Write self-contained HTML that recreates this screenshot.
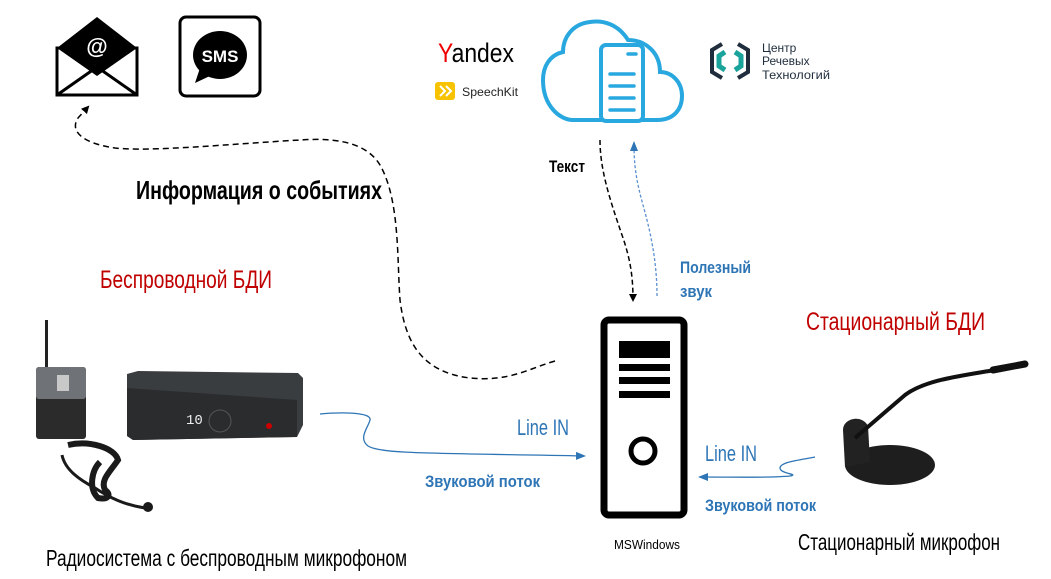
<!DOCTYPE html>
<html><head><meta charset="utf-8"><style>
html,body{margin:0;padding:0;background:#fff;}
svg{display:block;}
text{font-family:"Liberation Sans Narrow","Liberation Sans",sans-serif;}
</style></head><body>
<svg width="1051" height="579" viewBox="0 0 1051 579" xmlns="http://www.w3.org/2000/svg">
<defs>
<marker id="ab" markerWidth="8" markerHeight="8" refX="6" refY="4" orient="auto" markerUnits="userSpaceOnUse"><path d="M0,0 L8,4 L0,8 Z" fill="#000"/></marker>
<marker id="abl" markerWidth="10" markerHeight="8" refX="8" refY="4" orient="auto" markerUnits="userSpaceOnUse"><path d="M0,0 L10,4 L0,8 Z" fill="#2e75b6"/></marker>
</defs>
<g>
<rect x="57" y="48" width="80" height="47" fill="#fff" stroke="#000" stroke-width="3"/>
<path d="M57,48 L97,17 L137,48 L97,76 Z" fill="#000"/>
<path d="M57,95 L97,67 L137,95" fill="none" stroke="#000" stroke-width="3"/>
<text x="97" y="54" font-size="22" font-weight="bold" fill="#fff" text-anchor="middle" style="font-family:'Liberation Sans',sans-serif">@</text>
</g>
<rect x="180" y="17" width="80" height="79" rx="6" fill="#fff" stroke="#000" stroke-width="3"/>
<ellipse cx="220" cy="55" rx="27" ry="24" fill="#000"/>
<path d="M200,68 L195,83 L212,75 Z" fill="#000"/>
<text x="220" y="62" font-size="17" font-weight="bold" fill="#fff" text-anchor="middle" style="font-family:'Liberation Sans',sans-serif">SMS</text>
<text x="438" y="62" font-size="27" fill="#000" textLength="76" lengthAdjust="spacingAndGlyphs" style="font-family:'Liberation Sans',sans-serif"><tspan fill="#e00">Y</tspan>andex</text>
<rect x="435" y="82" width="20" height="18" rx="3" fill="#f7c300"/>
<path d="M440,86 L445,91 L440,96 M446,86 L451,91 L446,96" stroke="#fff" stroke-width="2" fill="none"/>
<text x="462" y="96" font-size="12" fill="#222" textLength="56" lengthAdjust="spacingAndGlyphs" style="font-family:'Liberation Sans',sans-serif">SpeechKit</text>
<path d="M573,120 L657,120 C675,120 682,108 682,96 C682,82 672,72 660,72 C660,52 645,40 628,40 C618,24 603,20 590,22 C572,24 563,38 563,52 C550,55 543,66 543,80 C543,106 560,120 573,120" fill="none" stroke="#29a8e0" stroke-width="4"/>
<rect x="601" y="45" width="42" height="76" rx="5" fill="#fff" stroke="#29a8e0" stroke-width="4"/>
<path d="M628,54 L636,54 M610,74 L634,74 M610,86 L634,86 M610,98 L634,98 M610,110 L634,110" stroke="#29a8e0" stroke-width="3.5" stroke-linecap="round"/>
<path d="M722,44 L712,50 L712,72 L722,78" fill="none" stroke="#1f2d3d" stroke-width="4"/>
<path d="M738,44 L748,50 L748,72 L738,78" fill="none" stroke="#1f2d3d" stroke-width="4"/>
<path d="M725,52 L719,56 L719,66 L725,70" fill="none" stroke="#1aa39b" stroke-width="5"/>
<path d="M735,52 L741,56 L741,66 L735,70" fill="none" stroke="#1aa39b" stroke-width="5"/>
<text x="762" y="52" font-size="12" fill="#1f2d3d" style="font-family:'Liberation Sans',sans-serif">Центр</text>
<text x="762" y="65" font-size="12" fill="#1f2d3d" style="font-family:'Liberation Sans',sans-serif">Речевых</text>
<text x="762" y="79" font-size="12" fill="#1f2d3d" textLength="68" lengthAdjust="spacingAndGlyphs" style="font-family:'Liberation Sans',sans-serif">Технологий</text>
<path d="M555,361 C530,368 510,382 470,378 C420,372 405,340 400,300 C397,260 400,200 380,165 C365,140 330,138 300,140 C230,144 150,152 115,148 C80,143 70,130 78,118 L88,107" fill="none" stroke="#000" stroke-width="1.5" stroke-dasharray="6,4" marker-end="url(#ab)"/>
<text x="136" y="199" font-size="26" font-weight="bold" fill="#000" textLength="246" lengthAdjust="spacingAndGlyphs">Информация о событиях</text>
<path d="M600,140 C600,170 610,200 622,235 C630,258 633,275 633,300" fill="none" stroke="#000" stroke-width="1.5" stroke-dasharray="5,3" marker-end="url(#ab)"/>
<text x="549" y="172" font-size="17" font-weight="bold" fill="#000" textLength="36" lengthAdjust="spacingAndGlyphs">Текст</text>
<path d="M657,296 C657,260 650,230 643,205 C636,180 634,165 634,143" fill="none" stroke="#5b8fd0" stroke-width="1.3" stroke-dasharray="3,2" marker-end="url(#abl)"/>
<text x="680" y="273" font-size="17" font-weight="bold" fill="#2e75b6" textLength="71" lengthAdjust="spacingAndGlyphs">Полезный</text>
<text x="680" y="297" font-size="17" font-weight="bold" fill="#2e75b6" textLength="32" lengthAdjust="spacingAndGlyphs">звук</text>
<rect x="604" y="320" width="80" height="195" rx="5" fill="#fff" stroke="#000" stroke-width="7"/>
<rect x="619" y="341" width="51" height="17" fill="#000"/>
<rect x="619" y="364" width="51" height="7" fill="#000"/>
<rect x="619" y="377" width="51" height="7" fill="#000"/>
<rect x="619" y="391" width="51" height="7" fill="#000"/>
<circle cx="643" cy="451" r="12" fill="none" stroke="#000" stroke-width="5"/>
<text x="614" y="549" font-size="13" fill="#000" textLength="66" lengthAdjust="spacingAndGlyphs">MSWindows</text>
<path d="M320,414 C340,412 372,412 370,420 C368,428 358,438 368,446 C380,454 430,453 584,456" fill="none" stroke="#2e75b6" stroke-width="1.3" marker-end="url(#abl)"/>
<text x="517" y="435" font-size="22" fill="#2e75b6" textLength="52" lengthAdjust="spacingAndGlyphs">Line IN</text>
<text x="425" y="487" font-size="17" font-weight="bold" fill="#2e75b6" textLength="115" lengthAdjust="spacingAndGlyphs">Звуковой поток</text>
<path d="M815,457 C800,460 780,462 780,468 C780,474 800,474 790,476 C770,478 740,477 700,477" fill="none" stroke="#2e75b6" stroke-width="1.3" marker-end="url(#abl)"/>
<text x="705" y="461" font-size="22" fill="#2e75b6" textLength="52" lengthAdjust="spacingAndGlyphs">Line IN</text>
<text x="705" y="511" font-size="17" font-weight="bold" fill="#2e75b6" textLength="111" lengthAdjust="spacingAndGlyphs">Звуковой поток</text>
<text x="100" y="288" font-size="25" fill="#c00000" textLength="172" lengthAdjust="spacingAndGlyphs">Беспроводной БДИ</text>
<text x="806" y="330" font-size="25" fill="#c00000" textLength="179" lengthAdjust="spacingAndGlyphs">Стационарный БДИ</text>
<g>
<rect x="45" y="320" width="3" height="48" fill="#222"/>
<rect x="36" y="367" width="50" height="72" rx="3" fill="#2b2b2b"/>
<rect x="36" y="367" width="50" height="32" rx="3" fill="#6f7378"/>
<rect x="57" y="375" width="12" height="16" fill="#c8c8c8"/>
<path d="M127,374 L138,371 L298,373 L303,378 L303,425 L297,437 L133,440 L127,436 Z" fill="#3a3d40"/>
<path d="M127,388 L297,400 L297,437 L133,440 L127,436 Z" fill="#2a2c2e"/>
<text x="186" y="424" font-size="14" fill="#eee" style="font-family:'Liberation Mono',monospace">10</text>
<circle cx="220" cy="421" r="11" fill="none" stroke="#555"/>
<circle cx="269" cy="426" r="3" fill="#c00"/>
<path d="M68,445 C90,440 115,448 118,460 C110,472 100,480 105,490 C112,495 108,500 98,498 C88,488 92,470 100,462" fill="none" stroke="#1a1a1a" stroke-width="6"/>
<path d="M62,455 C65,470 80,480 95,488 C110,498 125,505 145,508" fill="none" stroke="#1a1a1a" stroke-width="3"/>
<circle cx="148" cy="507" r="5" fill="#1a1a1a"/>
</g>
<text x="46" y="566" font-size="23" fill="#000" textLength="361" lengthAdjust="spacingAndGlyphs">Радиосистема с беспроводным микрофоном</text>
<g>
<ellipse cx="890" cy="465" rx="45" ry="20" fill="#1e1e1e"/>
<path d="M843,430 C843,418 862,414 868,426 L870,462 L845,467 Z" fill="#222"/>
<path d="M855,438 L905,395 C925,380 960,376 995,370" fill="none" stroke="#111" stroke-width="4"/>
<path d="M993,370 L1025,364" stroke="#111" stroke-width="7" stroke-linecap="round"/>
</g>
<text x="798" y="550" font-size="23" fill="#000" textLength="202" lengthAdjust="spacingAndGlyphs">Стационарный микрофон</text>
</svg>
</body></html>
